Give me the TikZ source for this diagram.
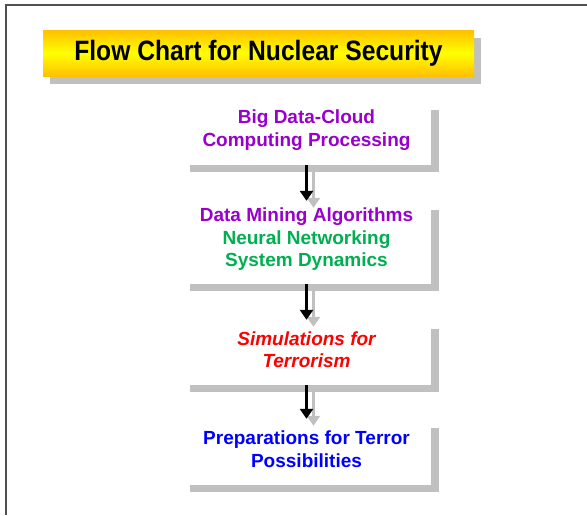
\documentclass[tikz,border=0pt]{standalone}
\usepackage{fontspec}
\setmainfont{Liberation Sans}
\usetikzlibrary{shadows,arrows.meta}
\definecolor{shadowgrey}{HTML}{C0C0C0}
\definecolor{framegrey}{HTML}{505050}
\definecolor{gold}{HTML}{FFC000}
\definecolor{ttpurple}{HTML}{9A00CC}
\definecolor{ttgreen}{HTML}{00B050}
\definecolor{ttred}{HTML}{FF0000}
\definecolor{ttblue}{HTML}{0000FF}
\tikzset{
  stepbox/.style={fill=white, draw=none, minimum width=249pt, inner sep=0pt,
    general shadow={shadow xshift=8pt, shadow yshift=-7pt, fill=shadowgrey}},
  steptext/.style={align=center, font=\bfseries\fontsize{19}{22.5}\selectfont, inner sep=0pt},
  blackarrow/.style={line width=3pt, draw=black, -{Triangle[width=13pt,length=10pt]}, shorten >=2pt},
  greyarrow/.style={line width=3pt, draw=shadowgrey, -{Triangle[width=13pt,length=10pt,fill=shadowgrey]}, shorten >=2pt},
}
\begin{document}
\begin{tikzpicture}[x=1pt,y=-1pt]
\useasboundingbox (0,0) rectangle (587,515);
\fill[white] (0,0) rectangle (587,515);
\draw[framegrey, line width=2pt] (6,515) -- (6,5) -- (587,5);
% title
\node[minimum width=431pt, minimum height=46pt, inner sep=0pt,
  top color=gold, bottom color=gold, middle color=yellow,
  general shadow={shadow xshift=7pt, shadow yshift=-8pt, fill=shadowgrey}] (title) at (258.5,53) {};
\node[font=\bfseries\fontsize{28}{30}\selectfont, xscale=0.88, inner sep=0pt] (titletext) at (title.center) {Flow Chart for Nuclear Security};
% boxes
\node[stepbox, minimum height=62pt] (b1) at (306.5,134) {};
\node[stepbox, minimum height=81pt] (b2) at (306.5,243.5) {};
\node[stepbox, minimum height=63pt] (b3) at (306.5,353.5) {};
\node[stepbox, minimum height=64pt] (b4) at (306.5,453) {};
% texts
\node[steptext, text=ttpurple] (t1) at ([yshift=4pt]b1.center) {Big Data-Cloud\\Computing Processing};
\node[steptext] (t2) at ([yshift=4pt]b2.center) {\textcolor{ttpurple}{Data Mining Algorithms}\\\textcolor{ttgreen}{Neural Networking}\\\textcolor{ttgreen}{System Dynamics}};
\node[steptext, text=ttred] (t3) at ([yshift=4pt]b3.center) {\itshape Simulations for\\\itshape Terrorism};
\node[steptext, text=ttblue] (t4) at ([yshift=4pt]b4.center) {Preparations for Terror\\Possibilities};
% arrows
\draw[greyarrow] ([shift={(7,7)}]b1.south) -- ([shift={(7,7)}]b2.north);
\draw[greyarrow] ([shift={(7,7)}]b2.south) -- ([shift={(7,7)}]b3.north);
\draw[greyarrow] ([shift={(7,7)}]b3.south) -- ([shift={(7,7)}]b4.north);
\draw[blackarrow] (b1.south) -- (b2.north);
\draw[blackarrow] (b2.south) -- (b3.north);
\draw[blackarrow] (b3.south) -- (b4.north);
\end{tikzpicture}
\end{document}
